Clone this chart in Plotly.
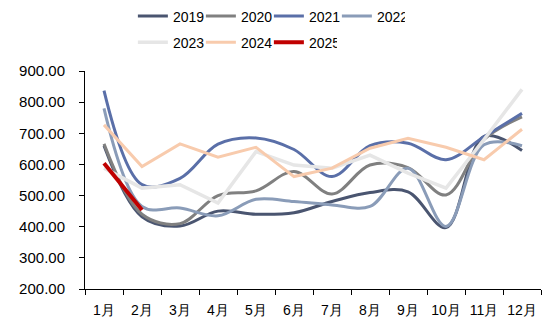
import plotly.graph_objects as go

months = ["1月", "2月", "3月", "4月", "5月", "6月", "7月", "8月", "9月", "10月", "11月", "12月"]

y2019 = [660, 432, 402, 450, 440, 445, 481, 510, 512, 397, 690, 645]
y2020 = [666, 440, 410, 500, 515, 577, 505, 598, 590, 502, 680, 753]
y2021 = [837, 535, 555, 665, 685, 648, 561, 660, 668, 615, 689, 764]
y2022 = [780, 465, 460, 435, 488, 481, 470, 465, 588, 401, 663, 660]
y2023 = [588, 524, 535, 476, 641, 598, 588, 630, 572, 524, 680, 841]
y2024 = [727, 593, 666, 623, 655, 561, 588, 652, 684, 655, 615, 713]
y2025 = [604, 454]

series = [
    ("2019", y2019, "#4A5570", "spline", 3, "legend"),
    ("2020", y2020, "#808080", "spline", 3, "legend"),
    ("2021", y2021, "#5A6FA8", "spline", 3, "legend"),
    ("2022", y2022, "#8A9CB8", "spline", 3, "legend"),
    ("2023", y2023, "#E6E6E6", "linear", 3.5, "legend2"),
    ("2024", y2024, "#F8CBAD", "linear", 3, "legend2"),
    ("2025", y2025, "#C00000", "linear", 4, "legend2"),
]

FONT = "Liberation Sans, Arial, sans-serif"

fig = go.Figure()
for name, ys, color, shape, w, lg in series:
    fig.add_trace(go.Scatter(
        x=months[:len(ys)], y=ys, name=name, mode="lines",
        line=dict(color=color, width=w, shape=shape, smoothing=1 if shape == "spline" else None),
        legend=lg,
    ))

legend_common = dict(
    orientation="h", xanchor="left", yanchor="middle",
    font=dict(family=FONT, size=14, color="#000"),
    entrywidth=23, itemwidth=30, bgcolor="rgba(0,0,0,0)",
    traceorder="normal",
)

fig.update_layout(
    width=549, height=330,
    margin=dict(l=85, r=8, t=71, b=41, autoexpand=False),
    plot_bgcolor="white", paper_bgcolor="white",
    font=dict(family=FONT, color="#000"),
    legend=dict(x=0.105, y=1.25, **legend_common),
    legend2=dict(x=0.105, y=1.13, **legend_common),
    xaxis=dict(
        type="category", range=[-0.5, 11.5],
        showline=True, linecolor="#000", linewidth=1,
        ticks="outside", ticklen=5, tickcolor="#000", tickson="boundaries",
        showgrid=False, tickfont=dict(family=FONT, size=14), ticklabelstandoff=8,
        tickangle=0, automargin=False,
    ),
    yaxis=dict(
        range=[200, 900], dtick=100, tickformat=".2f",
        showline=True, linecolor="#000", linewidth=1,
        ticks="outside", ticklen=5, tickcolor="#000",
        showgrid=False, zeroline=False, tickfont=dict(family=FONT, size=15), ticklabelstandoff=11,
        automargin=False,
    ),
)

fig.write_html("out.html")
